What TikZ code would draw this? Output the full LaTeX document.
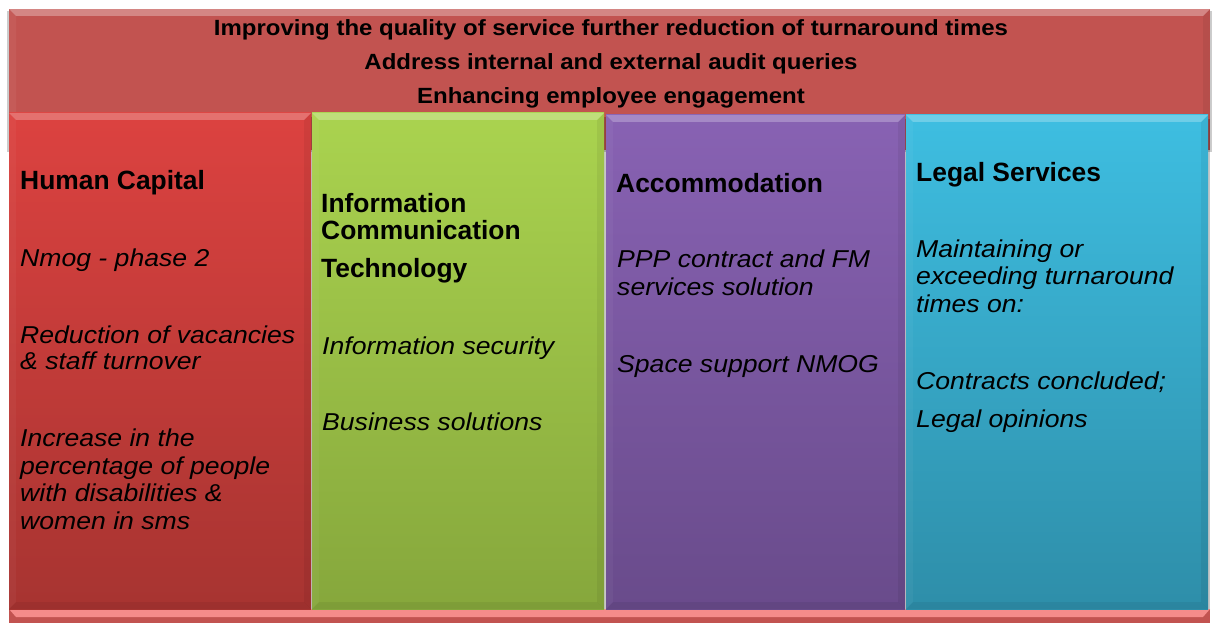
\documentclass[tikz,border=0pt]{standalone}
\usepackage{fontspec}
\setmainfont{Liberation Sans}
\newfontfamily\bodyfont{Liberation Sans}[FakeStretch=1.09]
\newfontfamily\bannerfont{Liberation Sans}[FakeStretch=1.09]

\definecolor{bannerred}{HTML}{C25350}
\definecolor{hcTop}{HTML}{DC4240}
\definecolor{hcBot}{HTML}{A73431}
\definecolor{ictTop}{HTML}{AAD34F}
\definecolor{ictBot}{HTML}{86A73C}
\definecolor{accTop}{HTML}{8862B3}
\definecolor{accBot}{HTML}{694B8B}
\definecolor{legTop}{HTML}{3EBEE1}
\definecolor{legBot}{HTML}{2E8EA9}
\definecolor{stripPink}{HTML}{F58C8A}

% bevelled panel: x1 y1 x2 y2 top-colour bottom-colour
\newcommand\drawpanel[6]{%
  \fill[black, fill opacity=0.22] (#3,#2+4) rectangle (#3+2,#4);
  \shade[top color=#5, bottom color=#6] (#1,#2) rectangle (#3,#4);
  \fill[white, fill opacity=0.25] (#1,#2) -- (#3,#2) -- (#3-7,#2+7) -- (#1+7,#2+7) -- cycle;
  \fill[white, fill opacity=0.04] (#1,#2) -- (#1+7,#2+7) -- (#1+7,#4-7) -- (#1,#4) -- cycle;
  \fill[black, fill opacity=0.06] (#3,#2) -- (#3-7,#2+7) -- (#3-7,#4-7) -- (#3,#4) -- cycle;
  \fill[black, fill opacity=0.06] (#1,#4) -- (#1+7,#4-7) -- (#3-7,#4-7) -- (#3,#4) -- cycle;
}

\tikzset{
  hd/.style={font=\fontsize{26.4}{28}\selectfont\bfseries, inner sep=0pt, anchor=base west, text=black},
  bd/.style={font=\bodyfont\itshape\fontsize{24.4}{28}\selectfont, inner sep=0pt, anchor=base west, text=black},
  bn/.style={font=\bannerfont\bfseries\fontsize{22}{24}\selectfont, inner sep=0pt, anchor=base, text=black}
}

\begin{document}
\begin{tikzpicture}[x=1pt,y=-1pt]
\useasboundingbox (0,0) rectangle (1212,623);
\fill[white] (0,0) rectangle (1212,623);

% top banner
\fill[black, fill opacity=0.2] (7,11) rectangle (1212,152);
\fill[bannerred] (9,9) rectangle (1210,150);
\fill[white, fill opacity=0.3] (9,9) -- (1210,9) -- (1203,16) -- (16,16) -- cycle;
\fill[white, fill opacity=0.05] (9,9) -- (16,16) -- (16,150) -- (9,150) -- cycle;
\fill[black, fill opacity=0.06] (1210,9) -- (1203,16) -- (1203,150) -- (1210,150) -- cycle;

\node[bn] (g1) at (611,36) {Improving the quality of service further reduction of turnaround times};
\node[bn] (g2) at (611,70) {Address internal and external audit queries};
\node[bn] (g3) at (611,104) {Enhancing employee engagement};

% bottom strip
\fill[bannerred] (9,609) rectangle (1210,623);
\fill[stripPink] (9,609) -- (1210,609) -- (1203,617) -- (16,617) -- cycle;

% columns
\drawpanel{9}{113}{311}{609}{hcTop}{hcBot}
\drawpanel{312}{113}{604}{609}{ictTop}{ictBot}
\drawpanel{606}{115}{905}{609}{accTop}{accBot}
\drawpanel{906}{115}{1208}{609}{legTop}{legBot}

% Human Capital
\node[hd] (hc) at (20,189) {Human Capital};
\node[bd] (hc1) at (20,266) {Nmog - phase 2};
\node[bd] (hc2a) at (20,343) {Reduction of vacancies};
\node[bd] (hc2b) at (20,369) {\& staff turnover};
\node[bd] (hc3a) at (20,446) {Increase in the};
\node[bd] (hc3b) at (20,474) {percentage of people};
\node[bd] (hc3c) at (20,501) {with disabilities \&};
\node[bd] (hc3d) at (20,529) {women in sms};

% ICT
\node[hd] (ict1) at (321,212) {Information};
\node[hd] (ict2) at (321,239) {Communication};
\node[hd] (ict3) at (321,277) {Technology};
\node[bd] (icta) at (322,354) {Information security};
\node[bd] (ictb) at (322,430) {Business solutions};

% Accommodation
\node[hd] (acc) at (616,192) {Accommodation};
\node[bd] (acc1a) at (617,267) {PPP contract and FM};
\node[bd] (acc1b) at (617,295) {services solution};
\node[bd] (acc2) at (617,372) {Space support NMOG};

% Legal Services
\node[hd] (leg) at (916,181) {Legal Services};
\node[bd] (leg1a) at (916,257) {Maintaining or};
\node[bd] (leg1b) at (916,284) {exceeding turnaround};
\node[bd] (leg1c) at (916,312) {times on:};
\node[bd] (leg2) at (916,389) {Contracts concluded;};
\node[bd] (leg3) at (916,427) {Legal opinions};
\end{tikzpicture}
\end{document}
